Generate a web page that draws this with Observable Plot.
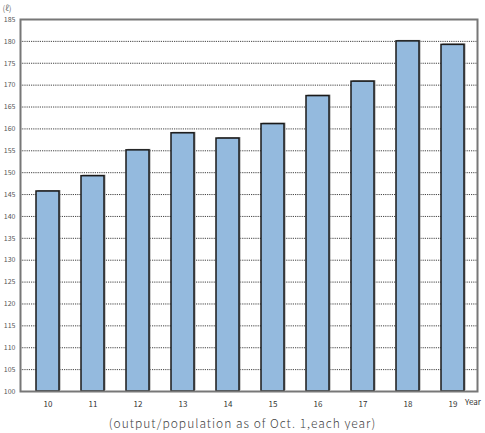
<!DOCTYPE html>
<html>
<head>
<meta charset="utf-8">
<script src="https://cdn.jsdelivr.net/npm/d3@7"></script>
<script src="https://cdn.jsdelivr.net/npm/@observablehq/plot@0.6"></script>
<style>
  body { margin: 0; background: #fff; font-family: "Noto Sans CJK JP", "Noto Sans", sans-serif; }
  #wrap { width: 485px; }
  #caption { text-align: center; font-size: 12px; color: #444; margin-top: 6px; letter-spacing: 1px; font-weight: 300; line-height: 14px; }
</style>
</head>
<body>
<div id="wrap"></div>
<script>
const years = ["10", "11", "12", "13", "14", "15", "16", "17", "18", "19"];
const values = [145.7, 149.2, 155.1, 159.0, 157.8, 161.1, 167.5, 170.8, 180.0, 179.2];
const yTicks = [100, 105, 110, 115, 120, 125, 130, 135, 140, 145, 150, 155, 160, 165, 170, 175, 180, 185];
const gridTicks = [105, 110, 115, 120, 125, 130, 135, 140, 145, 150, 155, 160, 165, 170, 175, 180];
const unitLabel = "(ℓ)";
const yearLabel = "Year";
const captionText = "(output/population as of Oct. 1,each year)";

const data = years.map((y, i) => ({year: y, value: values[i]}));

const chart = Plot.plot({
  width: 485,
  height: 410,
  marginLeft: 20,
  marginRight: 8,
  marginTop: 19,
  marginBottom: 19,
  style: {fontFamily: "'Noto Sans CJK JP', 'Noto Sans', sans-serif", background: "#fff"},
  x: {domain: years, paddingInner: 0.49, paddingOuter: 0.3, align: 0.55, label: null},
  y: {domain: [100, 185], label: null},
  marks: [
    Plot.ruleY(gridTicks, {stroke: "#444", strokeWidth: 1, strokeDasharray: "1.2,1"}),
    Plot.barY(data, {x: "year", y1: 100, y2: "value", fill: "#999", dx: 1.5, dy: -1}),
    Plot.barY(data, {x: "year", y1: 100, y2: "value", fill: "#94bade", stroke: "#1a1a1a", strokeWidth: 1.5}),
    Plot.frame({stroke: "#777", strokeWidth: 2}),
    Plot.axisY(yTicks, {tickSize: 0, tickPadding: 5, fontSize: 7, fill: "#555", tickFormat: d => String(d)}),
    Plot.axisX({tickSize: 0, tickPadding: 10, fontSize: 8, fill: "#333"}),
    Plot.text([{year: "19"}], {x: "year", text: () => yearLabel, frameAnchor: "bottom", dy: 13, dx: 20, fontSize: 8, fill: "#333", letterSpacing: "0.5px"}),
    Plot.text([unitLabel], {frameAnchor: "top-left", dx: -18, dy: -14, fontSize: 8, fill: "#777", textAnchor: "start"})
  ]
});
document.getElementById("wrap").appendChild(chart);
const cap = document.createElement("div");
cap.id = "caption";
cap.textContent = captionText;
document.getElementById("wrap").appendChild(cap);
</script>
</body>
</html>
